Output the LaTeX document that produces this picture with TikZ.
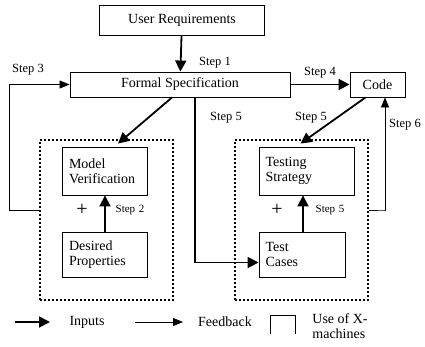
\documentclass[tikz,border=0pt]{standalone}
\usepackage{fontspec}
\setmainfont{Liberation Serif}
\usetikzlibrary{arrows.meta}

\begin{document}
\begin{tikzpicture}[x=1pt,y=-1pt]
\tikzstyle{every node}+=[inner sep=0pt]
\tikzstyle{box}=[draw,line width=0.9pt,font=\fontsize{14}{15}\selectfont]
\tikzstyle{xbox}=[draw,line width=1.8pt,dash pattern=on 1.8pt off 2.2pt]
\tikzstyle{inp}=[line width=1.8pt,-{Triangle[length=11pt,width=11pt]}]
\tikzstyle{fb}=[line width=0.8pt,-{Triangle[length=10pt,width=8pt]}]
\tikzstyle{lbl}=[font=\fontsize{12.5}{13}\selectfont]
\tikzstyle{small}=[font=\fontsize{11}{12}\selectfont]
\useasboundingbox (0,0) rectangle (425,346);

% boxes
\node [box,minimum width=165pt,minimum height=30pt] (ureq) at (182,20) {User Requirements};
\node [box,minimum width=220pt,minimum height=25pt] (fspec) at (180,84.5) {Formal Specification};
\node [box,minimum width=55pt,minimum height=25pt] (code) at (377.5,84.5) {Code};

% X-machine parts
\node [xbox,minimum width=133pt,minimum height=160pt] (lbox) at (106.5,220) {};
\node [xbox,minimum width=133pt,minimum height=160pt] (rbox) at (301.5,220) {};
\node [box,minimum width=85pt,minimum height=48pt,text width=72pt,align=left] (mver) at (105,171) {Model\\Verification};
\node [box,minimum width=85pt,minimum height=45pt,text width=72pt,align=left] (dprop) at (105,254.5) {Desired\\Properties};
\node [box,minimum width=95pt,minimum height=48pt,text width=82pt,align=left] (tstrat) at (306.5,171) {Testing\\Strategy};
\node [box,minimum width=86pt,minimum height=45pt,text width=73pt,align=left] (tcases) at (302,254.5) {Test\\Cases};

% inputs
\draw [inp] (ureq) -- (fspec);
\draw [inp] (fspec) -- (code);
\draw [inp] ([xshift=-8pt]fspec.south) -- ([xshift=13pt,yshift=3pt]mver.north);
\draw [inp] ([xshift=15pt]fspec.south) |- ([yshift=-8pt]tcases.west);
\draw [inp] ([xshift=-12pt]code.south) -- ([xshift=-6pt,yshift=3pt]tstrat.north);
\draw [inp] (dprop) -- (mver);
\draw [inp] ([xshift=1pt]tcases.north) -- ([xshift=-3.5pt]tstrat.south);

% feedback
\draw [fb] ([yshift=10pt]lbox.west) -- ++(-30,0) |- (fspec.west);
\draw [fb] ([yshift=10pt]rbox.east) -- ++(17,0) -| ([xshift=7.5pt]code.south);

% labels
\node [lbl] (s1) at (215,63) {Step 1};
\node [lbl] (s3) at (28,70) {Step 3};
\node [lbl] (s4) at (320,73) {Step 4};
\node [lbl] (s5a) at (226,118) {Step 5};
\node [lbl] (s5b) at (311,118) {Step 5};
\node [lbl] (s6) at (405,125) {Step 6};
\node [small] (s2) at (130,210) {Step\,\,2};
\node [small] (s5c) at (330,210) {Step\,\,5};
\node [font=\fontsize{20}{20}\selectfont] (p1) at (82,210) {+};
\node [font=\fontsize{20}{20}\selectfont] (p2) at (277,210) {+};

% legend
\coordinate (li1) at (15,322);
\coordinate (li2) at (50,322);
\coordinate (lf1) at (135,322);
\coordinate (lf2) at (183,322);
\draw [inp] (li1) -- (li2);
\node [box,draw=none] (linp) at (87,322) {Inputs};
\draw [fb] (lf1) -- (lf2);
\node [box,draw=none] (lfb) at (225,322) {Feedback};
\draw [line width=0.7pt] (270,334) -- (270,315) -- (295,315) -- (295,334);
\node [box,draw=none,align=left] (lx) at (340,326) {Use of X-\\machines};
\end{tikzpicture}
\end{document}
